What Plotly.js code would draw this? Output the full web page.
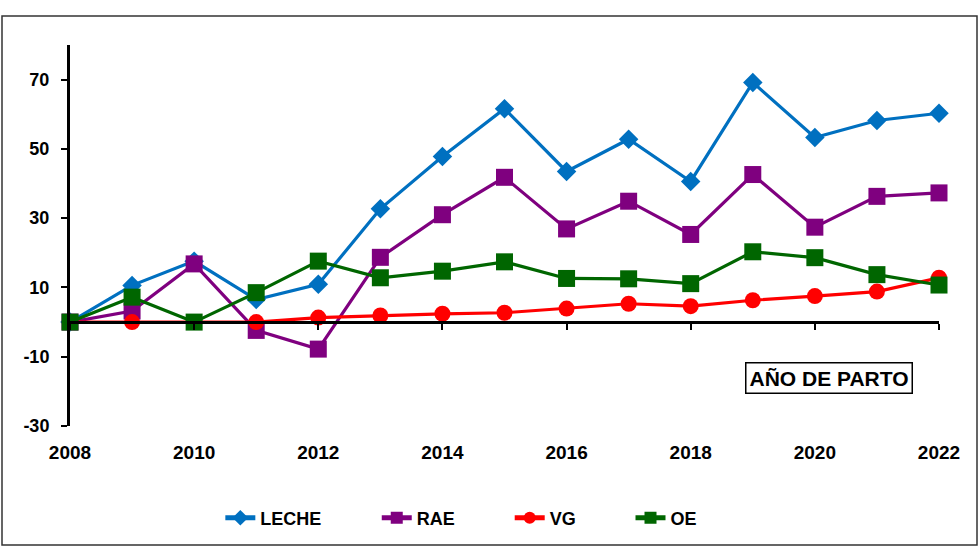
<!DOCTYPE html>
<html>
<head>
<meta charset="utf-8">
<script src="https://cdn.plot.ly/plotly-3.0.1.min.js"></script>
<style>
  html, body { margin: 0; padding: 0; background: #fff; }
  #chart { width: 980px; height: 560px; }
</style>
</head>
<body>
<div id="chart"></div>
<script>
// Birth year (AÑO DE PARTO)
const years = [2008, 2009, 2010, 2011, 2012, 2013, 2014, 2015, 2016, 2017, 2018, 2019, 2020, 2021, 2022];

// Series values
const leche = [0, 10.6, 17.6, 6.5, 10.9, 32.7, 47.8, 61.6, 43.5, 52.8, 40.6, 69.2, 53.3, 58.2, 60.3];
const rae   = [0, 3.2, 16.8, -2.4, -7.8, 18.7, 31.0, 41.8, 26.9, 34.9, 25.3, 42.6, 27.4, 36.3, 37.3];
const vg    = [0, 0, 0, 0, 1.3, 1.9, 2.4, 2.7, 3.9, 5.3, 4.6, 6.3, 7.5, 8.8, 12.8];
const oe    = [0, 7.2, 0, 8.5, 17.6, 12.8, 14.7, 17.4, 12.6, 12.5, 11.1, 20.3, 18.6, 13.7, 10.7];

// Y tick values and their labels (plain hyphen for negatives)
const yTickVals = [-30, -10, 10, 30, 50, 70];
const yTickText = ['-30', '-10', '10', '30', '50', '70'];

const names = ['LECHE', 'RAE', 'VG', 'OE'];
const colors = ['#0070C0', '#7F007F', '#FF0000', '#006600'];
const symbols = ['diamond', 'square', 'circle', 'square'];
const sizes = [15, 17, 16, 17];
const series = [leche, rae, vg, oe];

const FONT = 'Arial, "Liberation Sans", sans-serif';

const traces = series.map((vals, i) => ({
  type: 'scatter',
  mode: 'lines+markers',
  name: names[i],
  x: years,
  y: vals,
  cliponaxis: false,
  line: { color: colors[i], width: 3.2 },
  marker: { color: colors[i], symbol: symbols[i], size: sizes[i] },
  legend: i === 0 ? 'legend' : 'legend' + (i + 1)
}));

// carrier for the axis drawn along y = 0
traces.push({
  type: 'scatter', mode: 'none', x: [years[0], years[years.length - 1]], y: [null, null],
  xaxis: 'x2', showlegend: false, hoverinfo: 'skip'
});

const legendX = [0.173, 0.353, 0.506, 0.645];
function legendAt(x) {
  return {
    orientation: 'h', x: x, xanchor: 'left', y: -0.2415, yanchor: 'middle',
    bgcolor: 'rgba(0,0,0,0)', itemsizing: 'constant', itemwidth: 30,
    font: { family: FONT, size: 18, color: '#000', weight: 'bold' }
  };
}

const layout = {
  width: 980, height: 560,
  margin: { l: 70, r: 41, t: 45, b: 134 },
  paper_bgcolor: '#fff', plot_bgcolor: '#fff',
  font: { family: FONT, size: 18, color: '#000', weight: 'bold' },
  showlegend: true,
  legend: legendAt(legendX[0]),
  legend2: legendAt(legendX[1]),
  legend3: legendAt(legendX[2]),
  legend4: legendAt(legendX[3]),
  xaxis: {
    range: [2008, 2022], tick0: 2008, dtick: 2,
    showgrid: false, zeroline: false, showline: false,
    ticks: 'outside', ticklen: 9, tickcolor: 'rgba(0,0,0,0)',
    tickfont: { family: FONT, size: 19, color: '#000', weight: 'bold' }
  },
  xaxis2: {
    overlaying: 'x', matches: 'x', anchor: 'free', position: 30 / 110,
    range: [2008, 2022], tick0: 2008, dtick: 2,
    showgrid: false, zeroline: false,
    showline: true, linecolor: '#000', linewidth: 3,
    ticks: 'outside', ticklen: 6, tickwidth: 2, tickcolor: '#000',
    showticklabels: false
  },
  yaxis: {
    range: [-30, 80], tickmode: 'array', tickvals: yTickVals, ticktext: yTickText,
    showgrid: false, zeroline: false,
    showline: true, linecolor: '#000', linewidth: 3,
    ticks: 'outside', ticklen: 6, tickwidth: 2, tickcolor: '#000',
    ticklabelstandoff: 8,
    tickfont: { family: FONT, size: 18, color: '#000', weight: 'bold' }
  },
  annotations: [{
    xref: 'paper', yref: 'paper', x: 0.873, y: 0.126,
    xanchor: 'center', yanchor: 'middle',
    text: 'AÑO DE PARTO', showarrow: false,
    font: { family: FONT, size: 21, color: '#000', weight: 'bold' },
    bordercolor: '#000', borderwidth: 1.5, borderpad: 3, bgcolor: '#fff'
  }],
  shapes: [{
    type: 'rect', xref: 'paper', yref: 'paper',
    x0: -68 / 869, x1: 1 + 38 / 869, y0: -119 / 381, y1: 1 + 29 / 381,
    line: { color: '#333', width: 1.5 }
  }]
};

Plotly.newPlot('chart', traces, layout, { staticPlot: true, displayModeBar: false });
</script>
</body>
</html>
